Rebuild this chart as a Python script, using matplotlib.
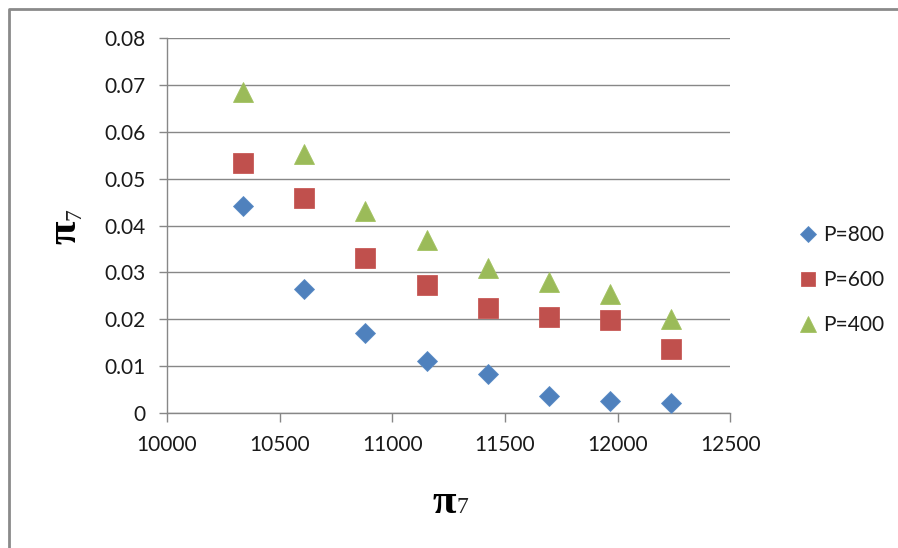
import matplotlib
matplotlib.use("Agg")
import matplotlib.pyplot as plt
from matplotlib.lines import Line2D
from matplotlib.ticker import FuncFormatter

# Data
pi7_x = [10336, 10608, 10880, 11152, 11424, 11697, 11966, 12237]
p800 = [0.0442, 0.0265, 0.0170, 0.0111, 0.0083, 0.0037, 0.0026, 0.0021]
p600 = [0.0534, 0.0459, 0.0330, 0.0274, 0.0225, 0.0204, 0.0199, 0.0136]
p400 = [0.0684, 0.0553, 0.0432, 0.0370, 0.0309, 0.0280, 0.0254, 0.0200]
series_labels = ["P=800", "P=600", "P=400"]
x_ticks = [10000, 10500, 11000, 11500, 12000, 12500]
y_ticks = [0, 0.01, 0.02, 0.03, 0.04, 0.05, 0.06, 0.07, 0.08]

W, H = 898, 548
fig = plt.figure(figsize=(W / 100, H / 100), dpi=100)
fig.patch.set_facecolor("white")

ax = fig.add_axes([167 / W, 1 - 413 / H, (730.3 - 167) / W, (413 - 38) / H])

grid_c = "#878787"
blue, red, green = "#4F81BD", "#C0504D", "#9BBB59"

ax.plot(pi7_x, p800, linestyle="none", marker="D", ms=10.6, color=blue,
        mec="#5B8CC6", mew=0.6, label=series_labels[0], zorder=3)
ax.plot(pi7_x, p600, linestyle="none", marker="s", ms=14.2, color=red,
        mec="#C85A57", mew=0.6, label=series_labels[1], zorder=3)
ax.plot(pi7_x, p400, linestyle="none", marker="^", ms=15.0, color=green,
        mec="#A3C262", mew=0.6, label=series_labels[2], zorder=3)

ax.set_xlim(10000, 12500)
ax.set_ylim(0, 0.08)
ax.set_xticks(x_ticks)
ax.set_yticks(y_ticks)
ax.yaxis.set_major_formatter(FuncFormatter(lambda v, p: "0" if v == 0 else f"{v:.2f}"))
ax.xaxis.set_major_formatter(FuncFormatter(lambda v, p: f"{int(v)}"))

ax.grid(axis="y", color=grid_c, linewidth=1.0)
ax.set_axisbelow(True)
for s in ("top", "right"):
    ax.spines[s].set_visible(False)
for s in ("left", "bottom"):
    ax.spines[s].set_color(grid_c)
    ax.spines[s].set_linewidth(1.0)

tick_font = "Lato"
ax.tick_params(axis="y", direction="out", length=5.5, width=1.0, color=grid_c,
               pad=10, labelsize=15, labelcolor="#1a1a1a")
ax.tick_params(axis="x", direction="out", length=6.5, width=1.0, color=grid_c,
               pad=9, labelsize=15, labelcolor="#1a1a1a")
for lab in ax.get_xticklabels() + ax.get_yticklabels():
    lab.set_fontfamily(tick_font)

# Axis titles: bold pi with a plain 7 beside it
def fx(px):
    return px / W

def fy(py):
    return 1 - py / H

fig.text(fx(456), fy(513), "π", fontfamily="Liberation Serif", fontweight="bold",
         fontsize=31, ha="right", va="baseline", color="black")
fig.text(fx(456), fy(513), "7", fontfamily="Liberation Serif",
         fontsize=17, ha="left", va="baseline", color="#222222")

fig.text(fx(85), fy(220), "π", fontfamily="Liberation Serif", fontweight="bold",
         fontsize=31, ha="right", va="bottom", rotation=90, rotation_mode="anchor",
         color="black")
fig.text(fx(85), fy(220), "7", fontfamily="Liberation Serif",
         fontsize=17, ha="left", va="bottom", rotation=90, rotation_mode="anchor",
         color="#222222")

leg = ax.legend(loc="center left", bbox_to_anchor=(fx(800), fy(280)),
                bbox_transform=fig.transFigure, frameon=False,
                prop={"family": tick_font, "size": 15}, markerscale=0.75,
                handlelength=0.8, handletextpad=0.3, labelspacing=1.2,
                borderpad=0, borderaxespad=0)
for t in leg.get_texts():
    t.set_color("#1a1a1a")

# Chart frame (left and top edges)
fig.add_artist(Line2D([fx(9), fx(9), fx(W + 5)], [fy(H + 5), fy(9), fy(9)],
                      transform=fig.transFigure, color="#8a8a8a", linewidth=2.0))

fig.savefig("out.png", dpi=100, facecolor="white")
